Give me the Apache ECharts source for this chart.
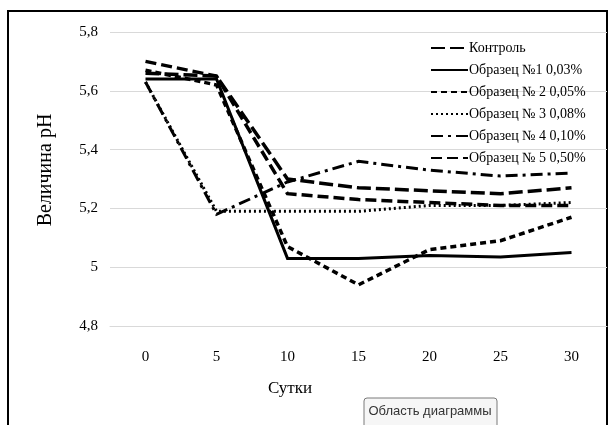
<!DOCTYPE html>
<html>
<head>
<meta charset="utf-8">
<script src="https://cdn.jsdelivr.net/npm/echarts@6/dist/echarts.min.js"></script>
<style>
html,body{margin:0;padding:0;background:#fff;}
#c{width:610px;height:425px;}
</style>
</head>
<body>
<div id="c"></div>
<script>
var categories = ['0', '5', '10', '15', '20', '25', '30'];
var seriesNames = ['Контроль', 'Образец №1 0,03%', 'Образец № 2 0,05%', 'Образец № 3 0,08%', 'Образец № 4 0,10%', 'Образец № 5 0,50%'];
var control = [5.66, 5.65, 5.30, 5.27, 5.26, 5.25, 5.27];
var sample1 = [5.64, 5.64, 5.03, 5.03, 5.04, 5.035, 5.05];
var sample2 = [5.67, 5.62, 5.07, 4.94, 5.06, 5.09, 5.17];
var sample3 = [5.63, 5.19, 5.19, 5.19, 5.21, 5.21, 5.22];
var sample4 = [5.63, 5.18, 5.29, 5.36, 5.33, 5.31, 5.32];
var sample5 = [5.70, 5.65, 5.25, 5.23, 5.22, 5.21, 5.21];
var yTicks = [4.8, 5.0, 5.2, 5.4, 5.6, 5.8];

var styles = [
  {width: 3.5, type: [14, 5]},
  {width: 3, type: 'solid'},
  {width: 3.5, type: [6, 4]},
  {width: 3, type: [2, 3]},
  {width: 3, type: [12, 5, 3, 5]},
  {width: 3.5, type: [11, 5]}
];
var dataList = [control, sample1, sample2, sample3, sample4, sample5];

var serif = '"Liberation Serif", "DejaVu Serif", serif';

var chart = echarts.init(document.getElementById('c'));
chart.setOption({
  animation: false,
  backgroundColor: '#fff',
  grid: {left: 110, right: 3, top: 32, bottom: 99, containLabel: false},
  legend: {
    orient: 'vertical',
    left: 425,
    top: 36,
    itemWidth: 37,
    itemHeight: 12,
    itemGap: 8,
    data: seriesNames,
    itemStyle: {color: 'transparent', borderWidth: 0, opacity: 0},
    textStyle: {fontFamily: serif, fontSize: 14, color: '#000', padding: [0, 0, 0, -4]}
  },
  xAxis: {
    type: 'category',
    data: categories,
    boundaryGap: true,
    axisLine: {show: true, lineStyle: {color: '#d9d9d9', width: 1}},
    axisTick: {show: false},
    axisLabel: {fontFamily: serif, fontSize: 15, color: '#000', margin: 24}
  },
  yAxis: {
    type: 'value',
    min: yTicks[0],
    max: yTicks[yTicks.length - 1],
    interval: 0.2,
    axisLine: {show: false},
    axisTick: {show: false},
    splitLine: {lineStyle: {color: '#d9d9d9', width: 1}},
    axisLabel: {
      fontFamily: serif, fontSize: 15, color: '#000', margin: 12,
      formatter: function (v) { return String(+v.toFixed(1)).replace('.', ','); }
    }
  },
  series: seriesNames.map(function (n, i) {
    return {
      name: n,
      type: 'line',
      data: dataList[i],
      symbol: 'none',
      showSymbol: false,
      lineStyle: {color: '#000', width: styles[i].width, type: styles[i].type, cap: 'butt', join: 'miter'},
      itemStyle: {color: '#000'}
    };
  }),
  graphic: [
    {type: 'rect', silent: true, shape: {x: 8, y: 11, width: 599, height: 440},
      style: {fill: 'none', stroke: '#000', lineWidth: 2}},
    {type: 'text', silent: true, x: 46, y: 170, rotation: Math.PI / 2,
      style: {text: 'Величина pH', font: '20px ' + serif, fill: '#000', align: 'center', verticalAlign: 'middle'}},
    {type: 'text', silent: true, x: 290, y: 389,
      style: {text: 'Сутки', font: '17px ' + serif, fill: '#000', align: 'center', verticalAlign: 'middle'}},
    {type: 'rect', silent: true, shape: {x: 364, y: 398, width: 133, height: 40, r: 3},
      style: {fill: '#f6f6f6', stroke: '#7a7a7a', lineWidth: 1}},
    {type: 'text', silent: true, x: 430, y: 411,
      style: {text: 'Область диаграммы', font: '13px "Liberation Sans", Arial, sans-serif', fill: '#333', align: 'center', verticalAlign: 'middle'}}
  ]
});
</script>
</body>
</html>
